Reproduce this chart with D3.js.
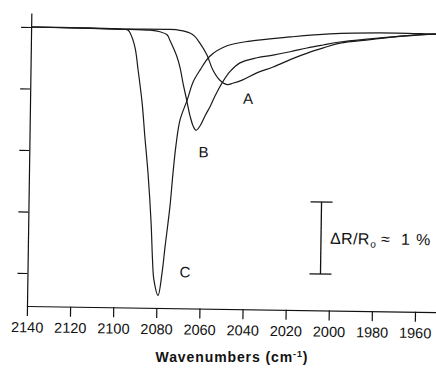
<!DOCTYPE html>
<html>
<head>
<meta charset="utf-8">
<script src="https://cdn.jsdelivr.net/npm/d3@7/dist/d3.min.js"></script>
<style>
  html, body { margin: 0; padding: 0; background: #fff; }
  svg { display: block; }
  text { font-family: "Liberation Sans", Arial, Helvetica, sans-serif; fill: #111; }
</style>
</head>
<body>
<svg id="chart" width="436" height="368"></svg>
<script>
// ---- data (wavenumber in cm^-1, ΔR/R0 in %) ----
const xTicks = [2140, 2120, 2100, 2080, 2060, 2040, 2020, 2000, 1980, 1960];
const yTicks = [0, -0.854, -1.708, -2.563, -3.417];

const wnA = [2140, 2099, 2076, 2071, 2066.3, 2063.9, 2061.6, 2058.3, 2055.4, 2052.1, 2048.6, 2046.1, 2041.5, 2035, 2027.5, 2019.6, 2011.7, 2004.3, 1996.6, 1982.7, 1968.9, 1953.1, 1950];
const valA = [0, -0.01, -0.005, -0.015, -0.05, -0.1, -0.19, -0.35, -0.56, -0.7, -0.76, -0.74, -0.69, -0.59, -0.505, -0.4, -0.305, -0.23, -0.16, -0.105, -0.055, -0.015, -0.015];

const wnB = [2140, 2099, 2084.8, 2080.2, 2076.9, 2075.5, 2072.2, 2070.6, 2069.1, 2067.6, 2065.7, 2064.2, 2062.8, 2061, 2058.6, 2056.3, 2055.1, 2052.9, 2051.1, 2047.5, 2042.9, 2035, 2027.6, 2019.7, 2011.9, 2004.5, 1996.6, 1982.7, 1968.9, 1953.1, 1950];
const valB = [0, -0.01, -0.02, -0.04, -0.08, -0.16, -0.38, -0.54, -0.76, -0.95, -1.2, -1.34, -1.4, -1.34, -1.19, -1.06, -0.975, -0.84, -0.74, -0.58, -0.455, -0.38, -0.34, -0.29, -0.235, -0.19, -0.145, -0.095, -0.05, -0.015, -0.015];

const wnC = [2140, 2117, 2099, 2095, 2094.1, 2091.7, 2090.1, 2088, 2086.5, 2084.8, 2083, 2082.1, 2081.3, 2079.3, 2077.6, 2076.4, 2074.4, 2073.2, 2072, 2070.3, 2067.1, 2064.5, 2061.3, 2056.8, 2049, 2038.3, 2019.8, 2001.4, 1978.3, 1953.1, 1950];
const valC = [0, 0, -0.01, -0.025, -0.06, -0.26, -0.575, -1.03, -1.5, -2.0, -2.7, -3.21, -3.49, -3.7, -3.39, -3.03, -2.47, -2.0, -1.61, -1.26, -0.98, -0.73, -0.56, -0.365, -0.22, -0.15, -0.085, -0.035, -0.01, -0.015, -0.015];

const curveLabels = ["A", "B", "C"];
const labelWn = [2038.9, 2059.2, 2066.9];
const labelVal = [-0.947, -1.70, -3.37];

const scaleBarWn = 2004.1;
const scaleBarTop = -2.37;
const scaleBarSize = 1; // ΔR/R0 = 1 %

const xTitle = "Wavenumbers (cm";
const xTitleSup = "-1";

// ---- drawing ----
const svg = d3.select("#chart");
const x = d3.scaleLinear().domain([2140, 1950]).range([27, 436.6]);
const y = d3.scaleLinear().domain([-3.875, 0.194]).range([306, 13]);

// the scanned original is rotated slightly clockwise
const g = svg.append("g").attr("transform", "rotate(0.85,27,306)");

const yAxis = g.append("g").attr("transform", "translate(27,0)")
  .call(d3.axisLeft(y).tickValues(yTicks).tickSize(10).tickSizeOuter(0).tickFormat(""));
const xAxis = g.append("g").attr("transform", "translate(0,306)")
  .call(d3.axisBottom(x).tickValues(xTicks).tickSize(10).tickSizeOuter(0).tickPadding(6).tickFormat(d3.format("d")));
[yAxis, xAxis].forEach(a => {
  a.selectAll("path, line").attr("stroke", "#111").attr("stroke-width", 1.2);
});
xAxis.selectAll("text").attr("font-size", "14.5px").attr("fill", "#111")
  .style("font-family", '"Liberation Sans", Arial, sans-serif');

const line = d3.line().x(d => x(d[0])).y(d => y(d[1])).curve(d3.curveCatmullRom.alpha(0.5));
const series = [[wnA, valA], [wnB, valB], [wnC, valC]];
series.forEach(([wn, val]) => {
  g.append("path")
    .datum(wn.map((w, i) => [w, val[i]]))
    .attr("d", line)
    .attr("fill", "none")
    .attr("stroke", "#1a1a1a")
    .attr("stroke-width", 1.2);
});

curveLabels.forEach((t, i) => {
  g.append("text")
    .attr("x", x(labelWn[i])).attr("y", y(labelVal[i]))
    .attr("dy", "0.36em")
    .attr("text-anchor", "middle")
    .attr("font-size", "15px")
    .text(t);
});

// scale bar
const sbx = x(scaleBarWn);
const sbTop = y(scaleBarTop), sbBot = y(scaleBarTop - scaleBarSize);
g.append("line").attr("x1", sbx).attr("x2", sbx).attr("y1", sbTop).attr("y2", sbBot)
  .attr("stroke", "#111").attr("stroke-width", 1.3);
[sbTop, sbBot].forEach(yy => {
  g.append("line").attr("x1", sbx - 11).attr("x2", sbx + 11).attr("y1", yy).attr("y2", yy)
    .attr("stroke", "#111").attr("stroke-width", 1.3);
});
const lbl = g.append("text")
  .attr("x", sbx + 9).attr("y", (sbTop + sbBot) / 2 + 5.7)
  .attr("font-size", "16px");
lbl.append("tspan").text("ΔR/R").attr("letter-spacing", "0.4px");
lbl.append("tspan").text("o").attr("font-size", "10px").attr("dy", 3).attr("dx", 0.5);
lbl.append("tspan").text("≈").attr("dy", -3).attr("x", sbx + 60);
lbl.append("tspan").text("1").attr("x", sbx + 80);
lbl.append("tspan").text("%").attr("x", sbx + 95);

// x axis title (kept unrotated so it stays inside the frame)
const title = svg.append("text")
  .attr("x", 232).attr("y", 362)
  .attr("text-anchor", "middle")
  .attr("font-size", "14px").attr("font-weight", "bold")
  .attr("letter-spacing", "0.9px");
title.append("tspan").text(xTitle);
title.append("tspan").text(xTitleSup).attr("font-size", "9px").attr("dy", -5);
title.append("tspan").text(")").attr("dy", 5);
</script>
</body>
</html>
